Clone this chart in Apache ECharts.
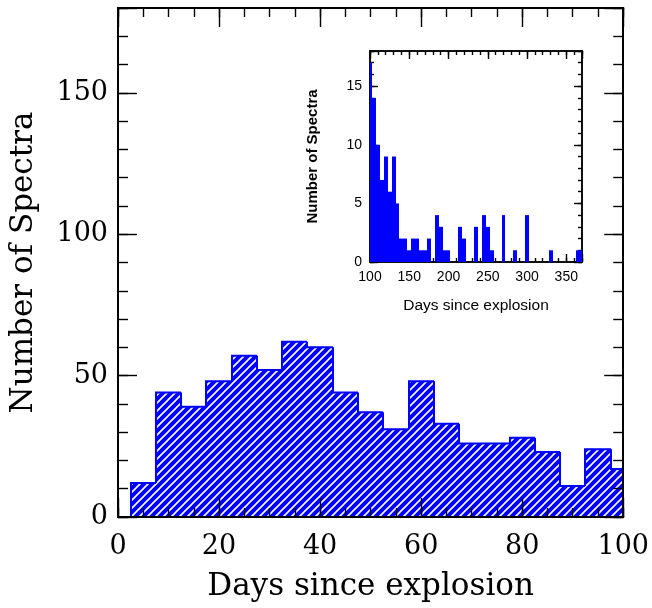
<!DOCTYPE html>
<html>
<head>
<meta charset="utf-8">
<script src="https://cdn.jsdelivr.net/npm/echarts@6/dist/echarts.min.js"></script>
<style>
  html, body { margin: 0; padding: 0; background: #fff; }
  #chart { width: 652px; height: 608px; }
</style>
</head>
<body>
<div id="chart"></div>
<script>
// main histogram: bin centres (days) and counts, bins 5 days wide
const mainCenters = [5, 10, 15, 20, 25, 30, 35, 40, 45, 50, 55, 60, 65, 70, 75, 80, 85, 90, 95, 100];
const mainCounts  = [12, 44, 39, 48, 57, 52, 62, 60, 44, 37, 31, 48, 33, 26, 26, 28, 23, 11, 24, 17];

// inset histogram (late times)
const insetCenters = [100, 105, 110, 115, 120, 125, 130, 135, 140, 145, 150, 155, 160, 165, 170, 175, 180,
  185, 190, 195, 200, 205, 210, 215, 220, 225, 230, 235, 240, 245, 250, 255, 260, 265, 270, 275, 280,
  285, 290, 295, 300, 305, 310, 315, 320, 325, 330, 335, 340, 345, 350, 355, 360, 365, 370];
const insetCounts = [17, 14, 10, 7, 9, 6, 9, 5, 2, 2, 1, 2, 2, 1, 1, 2, 0,
  4, 3, 1, 1, 0, 0, 3, 2, 0, 0, 3, 0, 4, 3, 1, 0, 0, 4, 0, 0,
  1, 0, 0, 4, 0, 0, 0, 0, 0, 1, 0, 0, 0, 0, 0, 0, 1, 1];

const binWidth = 5;
const BLUE = '#0000ff';
const serif = 'DejaVu Serif';
const sans = 'Liberation Sans';

// hatch pattern "////"
function hatch() {
  const c = document.createElement('canvas');
  c.width = 8; c.height = 8;
  const ctx = c.getContext('2d');
  ctx.fillStyle = BLUE;
  ctx.fillRect(0, 0, 8, 8);
  ctx.strokeStyle = '#ffffff';
  ctx.lineWidth = 1.6;
  ctx.beginPath();
  ctx.moveTo(-1, 9); ctx.lineTo(9, -1);
  ctx.moveTo(-1, 1); ctx.lineTo(1, -1);
  ctx.moveTo(7, 9); ctx.lineTo(9, 7);
  ctx.stroke();
  return c;
}
const hatchFill = { image: hatch(), repeat: 'repeat' };

function histItem(counts, xMax, fill, outline) {
  return function (params, api) {
    const i = params.dataIndex;
    const c = api.value(0), n = api.value(1);
    const l = Math.max(c - binWidth / 2, 0);
    const r = Math.min(c + binWidth / 2, xMax);
    const p0 = api.coord([l, 0]);
    const p1 = api.coord([r, n]);
    // snap bin edges to whole pixels so neighbouring bars leave no seam
    const x0 = Math.round(p0[0]), x1 = Math.round(p1[0]);
    const children = [];
    if (n > 0) {
      children.push({
        type: 'rect',
        shape: { x: x0, y: p1[1], width: x1 - x0, height: p0[1] - p1[1] },
        style: { fill: fill }
      });
    }
    if (outline) {
      const prev = i > 0 ? counts[i - 1] : 0;
      const yPrev = api.coord([l, prev])[1];
      const pts = [[x0, yPrev], [x0, p1[1]], [x1, p1[1]]];
      if (i === counts.length - 1) pts.push([x1, p0[1]]);
      children.push({
        type: 'polyline',
        shape: { points: pts },
        style: { stroke: BLUE, lineWidth: 2, fill: null }
      });
    }
    return { type: 'group', children: children };
  };
}

// every axis here is a frame side; lw = frame width, tl = tick length
function frameAxis(opt, lw, tl) {
  return Object.assign({
    type: 'value',
    axisLine: { show: true, onZero: false, lineStyle: { color: '#000', width: lw } },
    axisTick: { show: true, inside: true, length: tl, lineStyle: { color: '#000', width: 1.4 } },
    axisLabel: { show: false },
    splitLine: { show: false },
    z: 3
  }, opt);
}

const chart = echarts.init(document.getElementById('chart'));

const mainLabel = { show: true, fontFamily: serif, fontSize: 27, color: '#000' };
const insetLabel = { show: true, fontFamily: sans, fontSize: 14, color: '#000' };
const mx = { gridIndex: 0, min: 0, max: 100 };
const my = { gridIndex: 0, min: 0, max: 180 };
const ix = { gridIndex: 1, min: 100, max: 370, z: 1 };
const iy = { gridIndex: 1, min: 0, max: 18, z: 1 };

const option = {
  animation: false,
  grid: [
    { left: 117, right: 27, top: 8, bottom: 91 },
    { left: 370, right: 70, top: 51, bottom: 346 }
  ],
  xAxis: [
    frameAxis(Object.assign({ position: 'bottom', interval: 20,
      axisLabel: Object.assign({ margin: 16 }, mainLabel),
      name: 'Days since explosion', nameLocation: 'middle', nameGap: 54,
      nameTextStyle: { fontFamily: serif, fontSize: 31, color: '#000' } }, mx), 2, 19),
    frameAxis(Object.assign({ position: 'bottom', interval: 5 }, mx), 2, 9),
    frameAxis(Object.assign({ position: 'top', interval: 20 }, mx), 2, 19),
    frameAxis(Object.assign({ position: 'top', interval: 5 }, mx), 2, 9),
    // inset
    frameAxis(Object.assign({ position: 'bottom', interval: 50,
      axisLabel: Object.assign({ margin: 8, formatter: v => (v % 50 === 0 ? v : '') }, insetLabel),
      name: 'Days since explosion', nameLocation: 'middle', nameGap: 36,
      nameTextStyle: { fontFamily: sans, fontSize: 15.5, color: '#000' } }, ix), 1.5, 8),
    frameAxis(Object.assign({ position: 'bottom', interval: 10 }, ix), 1.5, 4),
    frameAxis(Object.assign({ position: 'top', interval: 50 }, ix), 1.5, 8),
    frameAxis(Object.assign({ position: 'top', interval: 10 }, ix), 1.5, 4)
  ],
  yAxis: [
    frameAxis(Object.assign({ position: 'left', interval: 50,
      axisLabel: Object.assign({ margin: 10, formatter: v => (v % 50 === 0 ? v : '') }, mainLabel),
      name: 'Number of Spectra', nameLocation: 'middle', nameGap: 79, nameRotate: 90,
      nameTextStyle: { fontFamily: serif, fontSize: 31, color: '#000' } }, my), 2, 19),
    frameAxis(Object.assign({ position: 'left', interval: 10 }, my), 2, 10),
    frameAxis(Object.assign({ position: 'right', interval: 50 }, my), 2, 19),
    frameAxis(Object.assign({ position: 'right', interval: 10 }, my), 2, 10),
    // inset
    frameAxis(Object.assign({ position: 'left', interval: 5,
      axisLabel: Object.assign({ margin: 8, formatter: v => (v % 5 === 0 ? v : '') }, insetLabel),
      name: 'Number of Spectra', nameLocation: 'middle', nameGap: 50, nameRotate: 90,
      nameTextStyle: { fontFamily: sans, fontSize: 15, fontWeight: 'bold', color: '#000' } }, iy), 1.5, 8),
    frameAxis(Object.assign({ position: 'left', interval: 1 }, iy), 1.5, 4),
    frameAxis(Object.assign({ position: 'right', interval: 5 }, iy), 1.5, 8),
    frameAxis(Object.assign({ position: 'right', interval: 1 }, iy), 1.5, 4)
  ],
  series: [
    {
      type: 'custom',
      xAxisIndex: 0, yAxisIndex: 0,
      clip: true,
      z: 2,
      data: mainCenters.map((c, i) => [c, mainCounts[i]]),
      renderItem: histItem(mainCounts, 100, hatchFill, true)
    },
    {
      type: 'custom',
      xAxisIndex: 4, yAxisIndex: 4,
      clip: true,
      z: 2,
      data: insetCenters.map((c, i) => [c, insetCounts[i]]),
      renderItem: histItem(insetCounts, 370, BLUE, false)
    }
  ]
};

chart.setOption(option);
</script>
</body>
</html>
